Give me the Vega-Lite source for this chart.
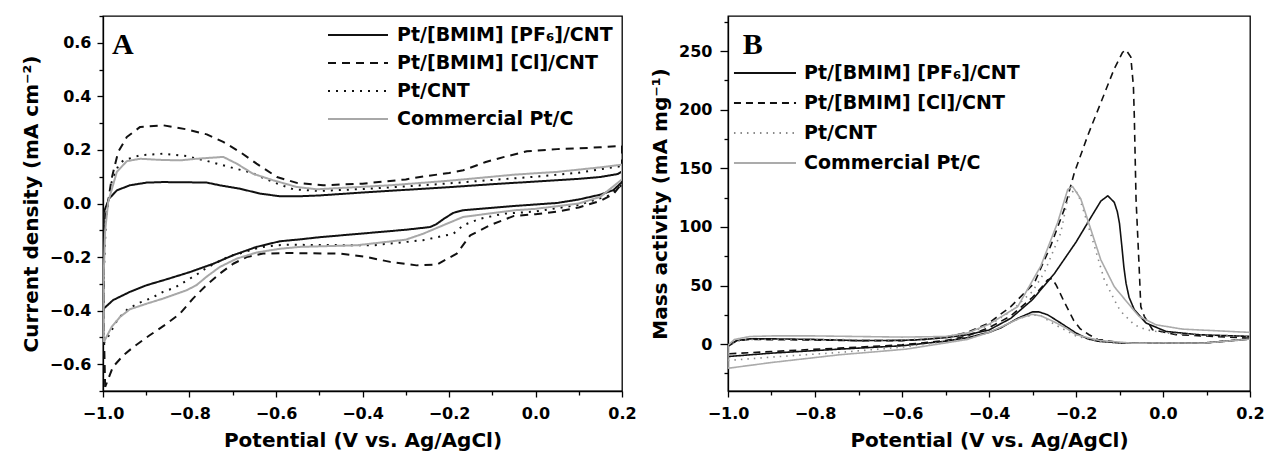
{
"$schema": "https://vega.github.io/schema/vega-lite/v6.json",
"background": "white",
"padding": {"left": 20, "top": 14, "right": 0, "bottom": 0},
"spacing": 12,
"resolve": {"scale": {"color": "independent", "strokeDash": "independent"}, "legend": {"color": "independent", "strokeDash": "independent"}},
"config": {
  "view": {"stroke": "#000", "strokeWidth": 1.3},
  "font": "DejaVu Sans",
  "axis": {"grid": false, "labelFont": "DejaVu Sans", "labelFontWeight": "bold", "labelFontSize": 16, "labelColor": "#000", "titleFont": "DejaVu Sans", "titleFontWeight": "bold", "titleFontSize": 20, "titleColor": "#000", "domainColor": "#000", "domainWidth": 1.3, "tickColor": "#000", "tickWidth": 1.3, "tickSize": 6, "labelFlush": false, "labelOverlap": false},
  "axisX": {"labelPadding": 8, "titlePadding": 9},
  "axisY": {"labelPadding": 6, "titlePadding": 8},
  "legend": {"title": null, "orient": "none", "padding": 0, "symbolType": "M-6,0H6", "symbolStrokeWidth": 2, "labelFont": "DejaVu Sans", "labelFontWeight": "bold", "labelFontSize": 19, "labelColor": "#000", "labelLimit": 400}
},
"datasets": {
"a": [
{"s":"PF6","i":1,"x":-1.0,"y":-0.395},{"s":"PF6","i":2,"x":-0.999,"y":-0.2},{"s":"PF6","i":3,"x":-0.998,"y":-0.032},{"s":"PF6","i":4,"x":-0.986,"y":0.018},{"s":"PF6","i":5,"x":-0.968,"y":0.049},{"s":"PF6","i":6,"x":-0.938,"y":0.068},{"s":"PF6","i":7,"x":-0.899,"y":0.078},{"s":"PF6","i":8,"x":-0.861,"y":0.08},{"s":"PF6","i":9,"x":-0.8,"y":0.079},{"s":"PF6","i":10,"x":-0.76,"y":0.078},{"s":"PF6","i":11,"x":-0.73,"y":0.068},{"s":"PF6","i":12,"x":-0.683,"y":0.055},{"s":"PF6","i":13,"x":-0.637,"y":0.037},{"s":"PF6","i":14,"x":-0.591,"y":0.027},{"s":"PF6","i":15,"x":-0.545,"y":0.027},{"s":"PF6","i":16,"x":-0.5,"y":0.03},{"s":"PF6","i":17,"x":-0.4,"y":0.041},{"s":"PF6","i":18,"x":-0.3,"y":0.051},{"s":"PF6","i":19,"x":-0.2,"y":0.061},{"s":"PF6","i":20,"x":-0.1,"y":0.072},{"s":"PF6","i":21,"x":0.0,"y":0.082},{"s":"PF6","i":22,"x":0.1,"y":0.092},{"s":"PF6","i":23,"x":0.15,"y":0.099},{"s":"PF6","i":24,"x":0.19,"y":0.11},{"s":"PF6","i":25,"x":0.2,"y":0.12},{"s":"PF6","i":26,"x":0.2,"y":0.08},{"s":"PF6","i":27,"x":0.18,"y":0.05},{"s":"PF6","i":28,"x":0.15,"y":0.033},{"s":"PF6","i":29,"x":0.1,"y":0.015},{"s":"PF6","i":30,"x":0.05,"y":0.002},{"s":"PF6","i":31,"x":-0.047,"y":-0.009},{"s":"PF6","i":32,"x":-0.1,"y":-0.016},{"s":"PF6","i":33,"x":-0.167,"y":-0.025},{"s":"PF6","i":34,"x":-0.19,"y":-0.035},{"s":"PF6","i":35,"x":-0.21,"y":-0.055},{"s":"PF6","i":36,"x":-0.23,"y":-0.078},{"s":"PF6","i":37,"x":-0.244,"y":-0.088},{"s":"PF6","i":38,"x":-0.3,"y":-0.098},{"s":"PF6","i":39,"x":-0.4,"y":-0.112},{"s":"PF6","i":40,"x":-0.5,"y":-0.126},{"s":"PF6","i":41,"x":-0.545,"y":-0.134},{"s":"PF6","i":42,"x":-0.591,"y":-0.141},{"s":"PF6","i":43,"x":-0.645,"y":-0.162},{"s":"PF6","i":44,"x":-0.699,"y":-0.193},{"s":"PF6","i":45,"x":-0.745,"y":-0.225},{"s":"PF6","i":46,"x":-0.799,"y":-0.256},{"s":"PF6","i":47,"x":-0.853,"y":-0.283},{"s":"PF6","i":48,"x":-0.899,"y":-0.305},{"s":"PF6","i":49,"x":-0.938,"y":-0.33},{"s":"PF6","i":50,"x":-0.977,"y":-0.361},{"s":"PF6","i":51,"x":-1.0,"y":-0.395},
{"s":"Cl","i":1,"x":-0.995,"y":-0.685},{"s":"Cl","i":2,"x":-0.999,"y":-0.4},{"s":"Cl","i":3,"x":-0.998,"y":-0.094},{"s":"Cl","i":4,"x":-0.98,"y":0.093},{"s":"Cl","i":5,"x":-0.965,"y":0.192},{"s":"Cl","i":6,"x":-0.945,"y":0.248},{"s":"Cl","i":7,"x":-0.914,"y":0.286},{"s":"Cl","i":8,"x":-0.861,"y":0.292},{"s":"Cl","i":9,"x":-0.807,"y":0.277},{"s":"Cl","i":10,"x":-0.76,"y":0.258},{"s":"Cl","i":11,"x":-0.722,"y":0.23},{"s":"Cl","i":12,"x":-0.683,"y":0.192},{"s":"Cl","i":13,"x":-0.645,"y":0.149},{"s":"Cl","i":14,"x":-0.598,"y":0.099},{"s":"Cl","i":15,"x":-0.552,"y":0.077},{"s":"Cl","i":16,"x":-0.491,"y":0.068},{"s":"Cl","i":17,"x":-0.4,"y":0.074},{"s":"Cl","i":18,"x":-0.3,"y":0.09},{"s":"Cl","i":19,"x":-0.267,"y":0.099},{"s":"Cl","i":20,"x":-0.2,"y":0.114},{"s":"Cl","i":21,"x":-0.167,"y":0.124},{"s":"Cl","i":22,"x":-0.115,"y":0.155},{"s":"Cl","i":23,"x":-0.072,"y":0.174},{"s":"Cl","i":24,"x":-0.02,"y":0.195},{"s":"Cl","i":25,"x":0.05,"y":0.203},{"s":"Cl","i":26,"x":0.1,"y":0.206},{"s":"Cl","i":27,"x":0.15,"y":0.21},{"s":"Cl","i":28,"x":0.2,"y":0.215},{"s":"Cl","i":29,"x":0.2,"y":0.075},{"s":"Cl","i":30,"x":0.18,"y":0.035},{"s":"Cl","i":31,"x":0.15,"y":0.01},{"s":"Cl","i":32,"x":0.1,"y":-0.015},{"s":"Cl","i":33,"x":0.05,"y":-0.03},{"s":"Cl","i":34,"x":0.0,"y":-0.04},{"s":"Cl","i":35,"x":-0.051,"y":-0.047},{"s":"Cl","i":36,"x":-0.105,"y":-0.081},{"s":"Cl","i":37,"x":-0.151,"y":-0.119},{"s":"Cl","i":38,"x":-0.182,"y":-0.187},{"s":"Cl","i":39,"x":-0.228,"y":-0.228},{"s":"Cl","i":40,"x":-0.275,"y":-0.231},{"s":"Cl","i":41,"x":-0.336,"y":-0.218},{"s":"Cl","i":42,"x":-0.39,"y":-0.2},{"s":"Cl","i":43,"x":-0.452,"y":-0.187},{"s":"Cl","i":44,"x":-0.576,"y":-0.185},{"s":"Cl","i":45,"x":-0.63,"y":-0.187},{"s":"Cl","i":46,"x":-0.668,"y":-0.2},{"s":"Cl","i":47,"x":-0.699,"y":-0.225},{"s":"Cl","i":48,"x":-0.73,"y":-0.262},{"s":"Cl","i":49,"x":-0.761,"y":-0.305},{"s":"Cl","i":50,"x":-0.792,"y":-0.355},{"s":"Cl","i":51,"x":-0.822,"y":-0.411},{"s":"Cl","i":52,"x":-0.853,"y":-0.449},{"s":"Cl","i":53,"x":-0.892,"y":-0.492},{"s":"Cl","i":54,"x":-0.93,"y":-0.536},{"s":"Cl","i":55,"x":-0.953,"y":-0.567},{"s":"Cl","i":56,"x":-0.977,"y":-0.61},{"s":"Cl","i":57,"x":-0.995,"y":-0.685},
{"s":"CNT","i":1,"x":-0.998,"y":-0.52},{"s":"CNT","i":2,"x":-0.999,"y":-0.3},{"s":"CNT","i":3,"x":-0.993,"y":-0.05},{"s":"CNT","i":4,"x":-0.98,"y":0.08},{"s":"CNT","i":5,"x":-0.965,"y":0.14},{"s":"CNT","i":6,"x":-0.953,"y":0.161},{"s":"CNT","i":7,"x":-0.914,"y":0.18},{"s":"CNT","i":8,"x":-0.861,"y":0.186},{"s":"CNT","i":9,"x":-0.807,"y":0.177},{"s":"CNT","i":10,"x":-0.76,"y":0.159},{"s":"CNT","i":11,"x":-0.707,"y":0.136},{"s":"CNT","i":12,"x":-0.657,"y":0.115},{"s":"CNT","i":13,"x":-0.607,"y":0.08},{"s":"CNT","i":14,"x":-0.56,"y":0.053},{"s":"CNT","i":15,"x":-0.5,"y":0.047},{"s":"CNT","i":16,"x":-0.4,"y":0.054},{"s":"CNT","i":17,"x":-0.3,"y":0.064},{"s":"CNT","i":18,"x":-0.2,"y":0.075},{"s":"CNT","i":19,"x":-0.1,"y":0.088},{"s":"CNT","i":20,"x":0.0,"y":0.1},{"s":"CNT","i":21,"x":0.1,"y":0.115},{"s":"CNT","i":22,"x":0.2,"y":0.14},{"s":"CNT","i":23,"x":0.2,"y":0.07},{"s":"CNT","i":24,"x":0.17,"y":0.03},{"s":"CNT","i":25,"x":0.1,"y":-0.005},{"s":"CNT","i":26,"x":0.0,"y":-0.03},{"s":"CNT","i":27,"x":-0.074,"y":-0.038},{"s":"CNT","i":28,"x":-0.128,"y":-0.057},{"s":"CNT","i":29,"x":-0.167,"y":-0.081},{"s":"CNT","i":30,"x":-0.19,"y":-0.113},{"s":"CNT","i":31,"x":-0.26,"y":-0.137},{"s":"CNT","i":32,"x":-0.375,"y":-0.156},{"s":"CNT","i":33,"x":-0.5,"y":-0.155},{"s":"CNT","i":34,"x":-0.568,"y":-0.154},{"s":"CNT","i":35,"x":-0.599,"y":-0.156},{"s":"CNT","i":36,"x":-0.63,"y":-0.162},{"s":"CNT","i":37,"x":-0.653,"y":-0.171},{"s":"CNT","i":38,"x":-0.68,"y":-0.185},{"s":"CNT","i":39,"x":-0.707,"y":-0.196},{"s":"CNT","i":40,"x":-0.734,"y":-0.218},{"s":"CNT","i":41,"x":-0.761,"y":-0.241},{"s":"CNT","i":42,"x":-0.784,"y":-0.266},{"s":"CNT","i":43,"x":-0.809,"y":-0.29},{"s":"CNT","i":44,"x":-0.834,"y":-0.314},{"s":"CNT","i":45,"x":-0.861,"y":-0.33},{"s":"CNT","i":46,"x":-0.888,"y":-0.353},{"s":"CNT","i":47,"x":-0.915,"y":-0.37},{"s":"CNT","i":48,"x":-0.942,"y":-0.393},{"s":"CNT","i":49,"x":-0.965,"y":-0.43},{"s":"CNT","i":50,"x":-0.993,"y":-0.511},{"s":"CNT","i":51,"x":-0.998,"y":-0.52},
{"s":"PtC","i":1,"x":-0.998,"y":-0.517},{"s":"PtC","i":2,"x":-0.999,"y":-0.3},{"s":"PtC","i":3,"x":-0.995,"y":-0.1},{"s":"PtC","i":4,"x":-0.988,"y":0.006},{"s":"PtC","i":5,"x":-0.968,"y":0.118},{"s":"PtC","i":6,"x":-0.945,"y":0.158},{"s":"PtC","i":7,"x":-0.914,"y":0.167},{"s":"PtC","i":8,"x":-0.87,"y":0.163},{"s":"PtC","i":9,"x":-0.822,"y":0.161},{"s":"PtC","i":10,"x":-0.784,"y":0.167},{"s":"PtC","i":11,"x":-0.722,"y":0.174},{"s":"PtC","i":12,"x":-0.691,"y":0.149},{"s":"PtC","i":13,"x":-0.653,"y":0.111},{"s":"PtC","i":14,"x":-0.607,"y":0.087},{"s":"PtC","i":15,"x":-0.553,"y":0.062},{"s":"PtC","i":16,"x":-0.506,"y":0.053},{"s":"PtC","i":17,"x":-0.45,"y":0.058},{"s":"PtC","i":18,"x":-0.336,"y":0.068},{"s":"PtC","i":19,"x":-0.2,"y":0.085},{"s":"PtC","i":20,"x":-0.1,"y":0.1},{"s":"PtC","i":21,"x":-0.047,"y":0.108},{"s":"PtC","i":22,"x":0.05,"y":0.118},{"s":"PtC","i":23,"x":0.15,"y":0.135},{"s":"PtC","i":24,"x":0.2,"y":0.145},{"s":"PtC","i":25,"x":0.2,"y":0.09},{"s":"PtC","i":26,"x":0.15,"y":0.025},{"s":"PtC","i":27,"x":0.1,"y":0.0},{"s":"PtC","i":28,"x":0.0,"y":-0.02},{"s":"PtC","i":29,"x":-0.047,"y":-0.025},{"s":"PtC","i":30,"x":-0.167,"y":-0.05},{"s":"PtC","i":31,"x":-0.213,"y":-0.081},{"s":"PtC","i":32,"x":-0.26,"y":-0.113},{"s":"PtC","i":33,"x":-0.3,"y":-0.135},{"s":"PtC","i":34,"x":-0.413,"y":-0.156},{"s":"PtC","i":35,"x":-0.545,"y":-0.162},{"s":"PtC","i":36,"x":-0.591,"y":-0.169},{"s":"PtC","i":37,"x":-0.645,"y":-0.183},{"s":"PtC","i":38,"x":-0.691,"y":-0.206},{"s":"PtC","i":39,"x":-0.73,"y":-0.237},{"s":"PtC","i":40,"x":-0.761,"y":-0.274},{"s":"PtC","i":41,"x":-0.784,"y":-0.305},{"s":"PtC","i":42,"x":-0.807,"y":-0.324},{"s":"PtC","i":43,"x":-0.861,"y":-0.355},{"s":"PtC","i":44,"x":-0.899,"y":-0.374},{"s":"PtC","i":45,"x":-0.938,"y":-0.395},{"s":"PtC","i":46,"x":-0.961,"y":-0.424},{"s":"PtC","i":47,"x":-0.98,"y":-0.461},{"s":"PtC","i":48,"x":-0.998,"y":-0.517}
],
"b": [
{"s":"PF6","i":1,"x":-1.0,"y":-10.6},{"s":"PF6","i":2,"x":-1.0,"y":-2},{"s":"PF6","i":3,"x":-0.98,"y":3},{"s":"PF6","i":4,"x":-0.95,"y":4.5},{"s":"PF6","i":5,"x":-0.9,"y":4.5},{"s":"PF6","i":6,"x":-0.8,"y":4},{"s":"PF6","i":7,"x":-0.7,"y":3},{"s":"PF6","i":8,"x":-0.6,"y":3.2},{"s":"PF6","i":9,"x":-0.55,"y":4},{"s":"PF6","i":10,"x":-0.5,"y":5.5},{"s":"PF6","i":11,"x":-0.45,"y":8},{"s":"PF6","i":12,"x":-0.4,"y":12},{"s":"PF6","i":13,"x":-0.35,"y":22},{"s":"PF6","i":14,"x":-0.3,"y":38},{"s":"PF6","i":15,"x":-0.25,"y":60},{"s":"PF6","i":16,"x":-0.2,"y":87},{"s":"PF6","i":17,"x":-0.166,"y":108},{"s":"PF6","i":18,"x":-0.143,"y":122},{"s":"PF6","i":19,"x":-0.127,"y":126.6},{"s":"PF6","i":20,"x":-0.112,"y":121},{"s":"PF6","i":21,"x":-0.105,"y":113},{"s":"PF6","i":22,"x":-0.1,"y":103},{"s":"PF6","i":23,"x":-0.095,"y":85},{"s":"PF6","i":24,"x":-0.09,"y":66},{"s":"PF6","i":25,"x":-0.085,"y":52},{"s":"PF6","i":26,"x":-0.078,"y":40},{"s":"PF6","i":27,"x":-0.066,"y":29.4},{"s":"PF6","i":28,"x":-0.039,"y":18},{"s":"PF6","i":29,"x":0.007,"y":10.8},{"s":"PF6","i":30,"x":0.083,"y":8},{"s":"PF6","i":31,"x":0.2,"y":6.6},{"s":"PF6","i":32,"x":0.2,"y":4.3},{"s":"PF6","i":33,"x":0.1,"y":1.2},{"s":"PF6","i":34,"x":0.0,"y":0.8},{"s":"PF6","i":35,"x":-0.1,"y":1},{"s":"PF6","i":36,"x":-0.15,"y":2.5},{"s":"PF6","i":37,"x":-0.173,"y":4.5},{"s":"PF6","i":38,"x":-0.2,"y":9.5},{"s":"PF6","i":39,"x":-0.235,"y":18},{"s":"PF6","i":40,"x":-0.265,"y":25},{"s":"PF6","i":41,"x":-0.285,"y":27.5},{"s":"PF6","i":42,"x":-0.3,"y":27.5},{"s":"PF6","i":43,"x":-0.334,"y":22},{"s":"PF6","i":44,"x":-0.372,"y":14},{"s":"PF6","i":45,"x":-0.4,"y":10},{"s":"PF6","i":46,"x":-0.45,"y":5.5},{"s":"PF6","i":47,"x":-0.5,"y":2.5},{"s":"PF6","i":48,"x":-0.6,"y":-1.4},{"s":"PF6","i":49,"x":-0.744,"y":-4.3},{"s":"PF6","i":50,"x":-0.9,"y":-7.7},{"s":"PF6","i":51,"x":-1.0,"y":-10.6},
{"s":"Cl","i":1,"x":-1.0,"y":-8.3},{"s":"Cl","i":2,"x":-1.0,"y":-1},{"s":"Cl","i":3,"x":-0.98,"y":3},{"s":"Cl","i":4,"x":-0.95,"y":4},{"s":"Cl","i":5,"x":-0.8,"y":3.5},{"s":"Cl","i":6,"x":-0.7,"y":3},{"s":"Cl","i":7,"x":-0.6,"y":3},{"s":"Cl","i":8,"x":-0.55,"y":4},{"s":"Cl","i":9,"x":-0.5,"y":6},{"s":"Cl","i":10,"x":-0.45,"y":10},{"s":"Cl","i":11,"x":-0.4,"y":18},{"s":"Cl","i":12,"x":-0.35,"y":32},{"s":"Cl","i":13,"x":-0.296,"y":52},{"s":"Cl","i":14,"x":-0.258,"y":84},{"s":"Cl","i":15,"x":-0.227,"y":115},{"s":"Cl","i":16,"x":-0.204,"y":146},{"s":"Cl","i":17,"x":-0.173,"y":178},{"s":"Cl","i":18,"x":-0.143,"y":206},{"s":"Cl","i":19,"x":-0.112,"y":235},{"s":"Cl","i":20,"x":-0.093,"y":249},{"s":"Cl","i":21,"x":-0.085,"y":251},{"s":"Cl","i":22,"x":-0.074,"y":245},{"s":"Cl","i":23,"x":-0.068,"y":220},{"s":"Cl","i":24,"x":-0.066,"y":195},{"s":"Cl","i":25,"x":-0.062,"y":124},{"s":"Cl","i":26,"x":-0.055,"y":67},{"s":"Cl","i":27,"x":-0.051,"y":32},{"s":"Cl","i":28,"x":-0.043,"y":23.7},{"s":"Cl","i":29,"x":-0.024,"y":12.3},{"s":"Cl","i":30,"x":0.03,"y":8},{"s":"Cl","i":31,"x":0.122,"y":6.5},{"s":"Cl","i":32,"x":0.2,"y":5.1},{"s":"Cl","i":33,"x":0.2,"y":4.5},{"s":"Cl","i":34,"x":0.1,"y":1},{"s":"Cl","i":35,"x":0.0,"y":0.8},{"s":"Cl","i":36,"x":-0.1,"y":1.2},{"s":"Cl","i":37,"x":-0.12,"y":2.5},{"s":"Cl","i":38,"x":-0.15,"y":4},{"s":"Cl","i":39,"x":-0.17,"y":8},{"s":"Cl","i":40,"x":-0.19,"y":13},{"s":"Cl","i":41,"x":-0.205,"y":20},{"s":"Cl","i":42,"x":-0.227,"y":36},{"s":"Cl","i":43,"x":-0.245,"y":50},{"s":"Cl","i":44,"x":-0.255,"y":56},{"s":"Cl","i":45,"x":-0.265,"y":55},{"s":"Cl","i":46,"x":-0.28,"y":48},{"s":"Cl","i":47,"x":-0.3,"y":40},{"s":"Cl","i":48,"x":-0.35,"y":24},{"s":"Cl","i":49,"x":-0.4,"y":14},{"s":"Cl","i":50,"x":-0.45,"y":7},{"s":"Cl","i":51,"x":-0.5,"y":3},{"s":"Cl","i":52,"x":-0.6,"y":-0.6},{"s":"Cl","i":53,"x":-0.744,"y":-3.4},{"s":"Cl","i":54,"x":-0.9,"y":-6.3},{"s":"Cl","i":55,"x":-1.0,"y":-8.3},
{"s":"CNT","i":1,"x":-1.0,"y":-14},{"s":"CNT","i":2,"x":-1.0,"y":-2},{"s":"CNT","i":3,"x":-0.98,"y":2.5},{"s":"CNT","i":4,"x":-0.95,"y":4},{"s":"CNT","i":5,"x":-0.8,"y":4},{"s":"CNT","i":6,"x":-0.6,"y":3.5},{"s":"CNT","i":7,"x":-0.5,"y":5.5},{"s":"CNT","i":8,"x":-0.45,"y":9},{"s":"CNT","i":9,"x":-0.4,"y":16},{"s":"CNT","i":10,"x":-0.35,"y":28},{"s":"CNT","i":11,"x":-0.3,"y":45},{"s":"CNT","i":12,"x":-0.273,"y":61},{"s":"CNT","i":13,"x":-0.235,"y":95},{"s":"CNT","i":14,"x":-0.219,"y":124},{"s":"CNT","i":15,"x":-0.204,"y":132},{"s":"CNT","i":16,"x":-0.195,"y":128},{"s":"CNT","i":17,"x":-0.181,"y":112},{"s":"CNT","i":18,"x":-0.158,"y":84},{"s":"CNT","i":19,"x":-0.135,"y":55},{"s":"CNT","i":20,"x":-0.104,"y":32},{"s":"CNT","i":21,"x":-0.093,"y":26.5},{"s":"CNT","i":22,"x":-0.066,"y":16.5},{"s":"CNT","i":23,"x":-0.039,"y":12.3},{"s":"CNT","i":24,"x":0.007,"y":9.4},{"s":"CNT","i":25,"x":0.1,"y":7.5},{"s":"CNT","i":26,"x":0.2,"y":6.5},{"s":"CNT","i":27,"x":0.2,"y":4},{"s":"CNT","i":28,"x":0.1,"y":1},{"s":"CNT","i":29,"x":0.0,"y":0.8},{"s":"CNT","i":30,"x":-0.1,"y":1},{"s":"CNT","i":31,"x":-0.15,"y":2.5},{"s":"CNT","i":32,"x":-0.2,"y":7},{"s":"CNT","i":33,"x":-0.25,"y":17},{"s":"CNT","i":34,"x":-0.28,"y":24},{"s":"CNT","i":35,"x":-0.3,"y":25},{"s":"CNT","i":36,"x":-0.33,"y":22},{"s":"CNT","i":37,"x":-0.37,"y":15},{"s":"CNT","i":38,"x":-0.4,"y":10},{"s":"CNT","i":39,"x":-0.45,"y":5},{"s":"CNT","i":40,"x":-0.5,"y":2},{"s":"CNT","i":41,"x":-0.6,"y":-2.6},{"s":"CNT","i":42,"x":-0.744,"y":-7.1},{"s":"CNT","i":43,"x":-0.9,"y":-11.1},{"s":"CNT","i":44,"x":-1.0,"y":-14},
{"s":"PtC","i":1,"x":-1.0,"y":-20.6},{"s":"PtC","i":2,"x":-1.0,"y":-1},{"s":"PtC","i":3,"x":-0.985,"y":4},{"s":"PtC","i":4,"x":-0.95,"y":6.5},{"s":"PtC","i":5,"x":-0.9,"y":7},{"s":"PtC","i":6,"x":-0.8,"y":7},{"s":"PtC","i":7,"x":-0.7,"y":6.5},{"s":"PtC","i":8,"x":-0.6,"y":6},{"s":"PtC","i":9,"x":-0.5,"y":6.5},{"s":"PtC","i":10,"x":-0.45,"y":9.5},{"s":"PtC","i":11,"x":-0.4,"y":17},{"s":"PtC","i":12,"x":-0.334,"y":32},{"s":"PtC","i":13,"x":-0.281,"y":66.6},{"s":"PtC","i":14,"x":-0.242,"y":104},{"s":"PtC","i":15,"x":-0.219,"y":132},{"s":"PtC","i":16,"x":-0.208,"y":134.5},{"s":"PtC","i":17,"x":-0.189,"y":124},{"s":"PtC","i":18,"x":-0.166,"y":98},{"s":"PtC","i":19,"x":-0.143,"y":72},{"s":"PtC","i":20,"x":-0.112,"y":49},{"s":"PtC","i":21,"x":-0.074,"y":32},{"s":"PtC","i":22,"x":-0.055,"y":23.7},{"s":"PtC","i":23,"x":-0.016,"y":16.5},{"s":"PtC","i":24,"x":0.045,"y":12.8},{"s":"PtC","i":25,"x":0.2,"y":10},{"s":"PtC","i":26,"x":0.2,"y":4.3},{"s":"PtC","i":27,"x":0.1,"y":1},{"s":"PtC","i":28,"x":0.0,"y":1},{"s":"PtC","i":29,"x":-0.07,"y":0.8},{"s":"PtC","i":30,"x":-0.146,"y":3.1},{"s":"PtC","i":31,"x":-0.2,"y":8},{"s":"PtC","i":32,"x":-0.223,"y":13.7},{"s":"PtC","i":33,"x":-0.25,"y":19},{"s":"PtC","i":34,"x":-0.28,"y":24},{"s":"PtC","i":35,"x":-0.3,"y":25.5},{"s":"PtC","i":36,"x":-0.33,"y":22},{"s":"PtC","i":37,"x":-0.37,"y":15},{"s":"PtC","i":38,"x":-0.4,"y":10},{"s":"PtC","i":39,"x":-0.45,"y":4},{"s":"PtC","i":40,"x":-0.5,"y":1},{"s":"PtC","i":41,"x":-0.591,"y":-4.3},{"s":"PtC","i":42,"x":-0.744,"y":-9.1},{"s":"PtC","i":43,"x":-0.9,"y":-15.7},{"s":"PtC","i":44,"x":-1.0,"y":-20.6}
]
},
"hconcat": [
{
  "width": 519, "height": 375,
  "layer": [
    {
      "data": {"name": "a"},
      "mark": {"type": "line", "strokeWidth": 2, "strokeJoin": "round", "clip": true},
      "encoding": {
        "x": {"field": "x", "type": "quantitative", "scale": {"domain": [-1, 0.2], "nice": false, "zero": false}, "axis": {"orient": "bottom", "values": [-1, -0.8, -0.6, -0.4, -0.2, 0, 0.2], "format": ".1f", "title": "Potential (V vs. Ag/AgCl)"}},
        "y": {"field": "y", "type": "quantitative", "scale": {"domain": [-0.7, 0.7], "nice": false, "zero": false}, "axis": {"orient": "left", "values": [-0.6, -0.4, -0.2, 0, 0.2, 0.4, 0.6], "format": ".1f", "title": "Current density (mA cm⁻²)"}},
        "color": {"field": "s", "type": "nominal", "scale": {"domain": ["PF6", "Cl", "CNT", "PtC"], "range": ["#111111", "#111111", "#111111", "#a8a8a8"]},
          "legend": {"legendX": 225, "legendY": 9.5, "symbolSize": 100, "symbolOffset": 20.5, "labelOffset": 29.5, "rowPadding": 8,
            "labelExpr": "datum.label == 'PF6' ? 'Pt/[BMIM] [PF₆]/CNT' : datum.label == 'Cl' ? 'Pt/[BMIM] [Cl]/CNT' : datum.label == 'CNT' ? 'Pt/CNT' : 'Commercial Pt/C'"}},
        "strokeDash": {"field": "s", "type": "nominal", "scale": {"domain": ["PF6", "Cl", "CNT", "PtC"], "range": [[1, 0], [8, 6], [2, 6], [1, 0]]},
          "legend": {"legendX": 225, "legendY": 9.5, "symbolSize": 100, "symbolOffset": 20.5, "labelOffset": 29.5, "rowPadding": 8,
            "labelExpr": "datum.label == 'PF6' ? 'Pt/[BMIM] [PF₆]/CNT' : datum.label == 'Cl' ? 'Pt/[BMIM] [Cl]/CNT' : datum.label == 'CNT' ? 'Pt/CNT' : 'Commercial Pt/C'"}},
        "order": {"field": "i", "type": "quantitative"}
      }
    },
    {
      "data": {"name": "a"},
      "mark": {"type": "point", "opacity": 0},
      "encoding": {
        "x": {"field": "x", "type": "quantitative", "axis": {"orient": "bottom", "values": [-0.9, -0.7, -0.5, -0.3, -0.1, 0.1], "labels": false, "domain": false, "tickSize": 4, "title": null}},
        "y": {"field": "y", "type": "quantitative", "axis": {"orient": "left", "values": [-0.7, -0.5, -0.3, -0.1, 0.1, 0.3, 0.5, 0.7], "labels": false, "domain": false, "tickSize": 4, "title": null}}
      }
    },
    {
      "data": {"values": [{"t": "A", "x": -0.979, "y": 0.558}]},
      "mark": {"type": "text", "font": "Liberation Serif", "fontWeight": "bold", "fontSize": 30, "align": "left", "baseline": "alphabetic", "color": "#000"},
      "encoding": {
        "x": {"field": "x", "type": "quantitative", "axis": null},
        "y": {"field": "y", "type": "quantitative", "axis": null},
        "text": {"field": "t"}
      }
    }
  ],
  "resolve": {"axis": {"x": "independent", "y": "independent"}}
},
{
  "width": 522, "height": 375,
  "layer": [
    {
      "data": {"name": "b"},
      "mark": {"type": "line", "strokeWidth": 1.6, "strokeJoin": "round", "clip": true},
      "encoding": {
        "x": {"field": "x", "type": "quantitative", "scale": {"domain": [-1, 0.2], "nice": false, "zero": false}, "axis": {"orient": "bottom", "values": [-1, -0.8, -0.6, -0.4, -0.2, 0, 0.2], "format": ".1f", "title": "Potential (V vs. Ag/AgCl)"}},
        "y": {"field": "y", "type": "quantitative", "scale": {"domain": [-40, 280], "nice": false, "zero": false}, "axis": {"orient": "left", "values": [0, 50, 100, 150, 200, 250], "format": "d", "title": "Mass activity (mA mg⁻¹)", "tickSize": 8, "labelPadding": 8}},
        "color": {"field": "s", "type": "nominal", "scale": {"domain": ["PF6", "Cl", "CNT", "PtC"], "range": ["#111111", "#111111", "#8a8a8a", "#ababab"]},
          "legend": {"legendX": 6, "legendY": 47.5, "symbolSize": 107, "symbolOffset": 21.5, "labelOffset": 29.5, "rowPadding": 10,
            "labelExpr": "datum.label == 'PF6' ? 'Pt/[BMIM] [PF₆]/CNT' : datum.label == 'Cl' ? 'Pt/[BMIM] [Cl]/CNT' : datum.label == 'CNT' ? 'Pt/CNT' : 'Commercial Pt/C'"}},
        "strokeDash": {"field": "s", "type": "nominal", "scale": {"domain": ["PF6", "Cl", "CNT", "PtC"], "range": [[1, 0], [7, 5], [1.5, 5], [1, 0]]},
          "legend": {"legendX": 6, "legendY": 47.5, "symbolSize": 107, "symbolOffset": 21.5, "labelOffset": 29.5, "rowPadding": 10,
            "labelExpr": "datum.label == 'PF6' ? 'Pt/[BMIM] [PF₆]/CNT' : datum.label == 'Cl' ? 'Pt/[BMIM] [Cl]/CNT' : datum.label == 'CNT' ? 'Pt/CNT' : 'Commercial Pt/C'"}},
        "order": {"field": "i", "type": "quantitative"}
      }
    },
    {
      "data": {"name": "b"},
      "mark": {"type": "point", "opacity": 0},
      "encoding": {
        "x": {"field": "x", "type": "quantitative", "axis": {"orient": "bottom", "values": [-0.9, -0.7, -0.5, -0.3, -0.1, 0.1], "labels": false, "domain": false, "tickSize": 4, "title": null}},
        "y": {"field": "y", "type": "quantitative", "axis": {"orient": "left", "values": [-25, 25, 75, 125, 175, 225, 275], "labels": false, "domain": false, "tickSize": 4, "title": null}}
      }
    },
    {
      "data": {"values": [{"t": "B", "x": -0.966, "y": 247.6}]},
      "mark": {"type": "text", "font": "Liberation Serif", "fontWeight": "bold", "fontSize": 30, "align": "left", "baseline": "alphabetic", "color": "#000"},
      "encoding": {
        "x": {"field": "x", "type": "quantitative", "axis": null},
        "y": {"field": "y", "type": "quantitative", "axis": null},
        "text": {"field": "t"}
      }
    }
  ],
  "resolve": {"axis": {"x": "independent", "y": "independent"}}
}
]
}
